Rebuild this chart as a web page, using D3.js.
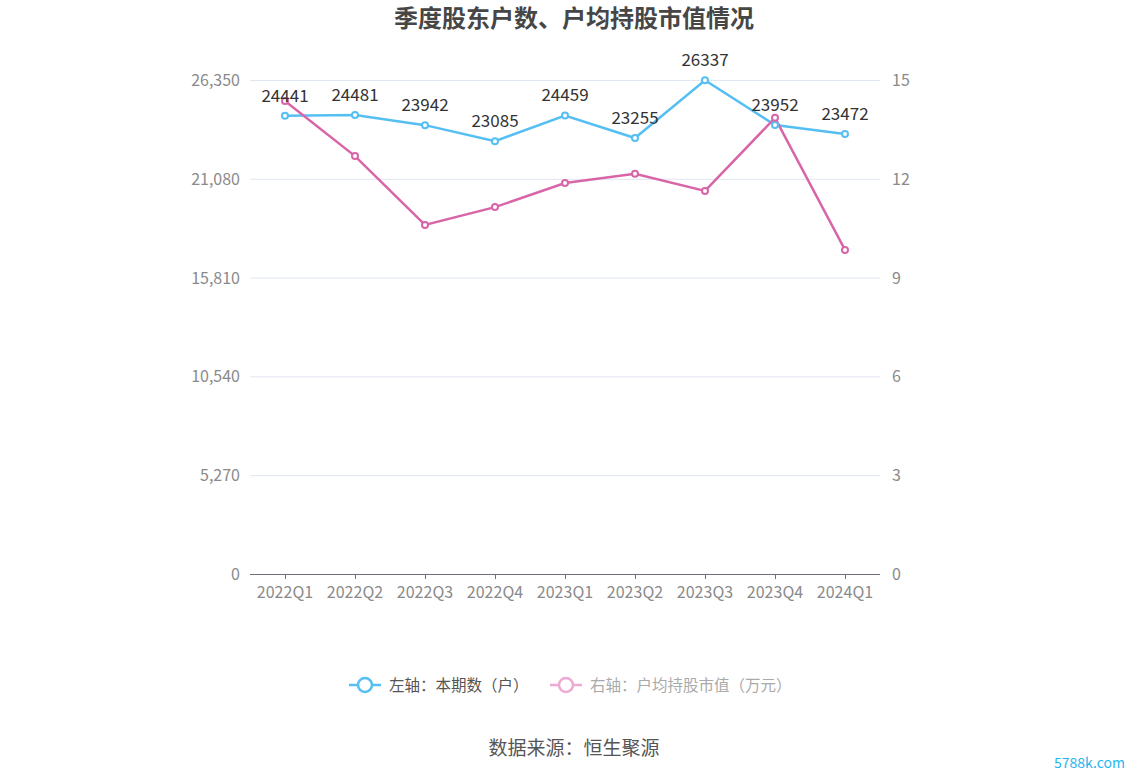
<!DOCTYPE html>
<html><head><meta charset="utf-8">
<script src="https://cdn.jsdelivr.net/npm/d3@7/dist/d3.min.js"></script>
<style>body{margin:0;background:#fff;}svg{display:block;font-family:"Microsoft YaHei","Noto Sans CJK SC",sans-serif;}</style>
</head><body><svg id="c" width="1148" height="776"></svg>
<script>
const categories=["2022Q1","2022Q2","2022Q3","2022Q4","2023Q1","2023Q2","2023Q3","2023Q4","2024Q1"];
const holders=[24441,24481,23942,23085,24459,23255,26337,23952,23472];
const avgValue=[14.36,12.69,10.60,11.14,11.87,12.15,11.63,13.85,9.84];
const leftTicks=[0,5270,10540,15810,21080,26350];
const rightTicks=[0,3,6,9,12,15];
const blue="#55bff3", pink="#d865a8";
const svg=d3.select("#c");
const L=250,R=880,T=80,B=574;
const x=d3.scaleBand().domain(categories).range([L,R]);
const yL=d3.scaleLinear().domain([0,26350]).range([B,T]);
const yR=d3.scaleLinear().domain([0,15]).range([B,T]);
const cx=d=>x(d)+x.bandwidth()/2;
svg.append("text").attr("x",574).attr("y",27).attr("text-anchor","middle").attr("font-size",24).attr("font-weight","bold").attr("fill","#464646").text("季度股东户数、户均持股市值情况");
svg.append("g").selectAll("line").data(leftTicks.slice(1)).join("line").attr("x1",L).attr("x2",R).attr("y1",d=>yL(d)+0.5).attr("y2",d=>yL(d)+0.5).attr("stroke","#e0e6f1");
svg.append("g").selectAll("text").data(leftTicks).join("text").attr("x",240).attr("y",d=>yL(d)+6).attr("text-anchor","end").attr("font-size",16).attr("fill","#8a8a8a").text(d=>d3.format(",")(d));
svg.append("g").selectAll("text").data(rightTicks).join("text").attr("x",892).attr("y",d=>yR(d)+6).attr("text-anchor","start").attr("font-size",16).attr("fill","#8a8a8a").text(d=>d);
svg.append("line").attr("x1",L).attr("x2",R).attr("y1",B+0.5).attr("y2",B+0.5).attr("stroke","#6e7079");
svg.append("g").selectAll("line").data(categories).join("line").attr("x1",d=>Math.round(cx(d))+0.5).attr("x2",d=>Math.round(cx(d))+0.5).attr("y1",B).attr("y2",B+5).attr("stroke","#6e7079");
svg.append("g").selectAll("text").data(categories).join("text").attr("x",d=>cx(d)).attr("y",B+24).attr("text-anchor","middle").attr("font-size",16).attr("fill","#8a8a8a").text(d=>d);
const lineL=d3.line().x((d,i)=>cx(categories[i])).y(d=>yL(d));
const lineR=d3.line().x((d,i)=>cx(categories[i])).y(d=>yR(d));
svg.append("path").attr("d",lineL(holders)).attr("fill","none").attr("stroke",blue).attr("stroke-width",2.5);
svg.append("path").attr("d",lineR(avgValue)).attr("fill","none").attr("stroke",pink).attr("stroke-width",2.5);
svg.append("g").selectAll("circle").data(holders).join("circle").attr("cx",(d,i)=>cx(categories[i])).attr("cy",d=>yL(d)).attr("r",3).attr("fill","#fff").attr("stroke",blue).attr("stroke-width",2);
svg.append("g").selectAll("circle").data(avgValue).join("circle").attr("cx",(d,i)=>cx(categories[i])).attr("cy",d=>yR(d)).attr("r",3).attr("fill","#fff").attr("stroke",pink).attr("stroke-width",2);
svg.append("g").selectAll("text").data(holders).join("text").attr("x",(d,i)=>cx(categories[i])).attr("y",d=>yL(d)-14).attr("text-anchor","middle").attr("font-size",17).attr("fill","#333").text(d=>d);
const lg=svg.append("g");
lg.append("line").attr("x1",349).attr("x2",381).attr("y1",685).attr("y2",685).attr("stroke",blue).attr("stroke-width",2.5);
lg.append("circle").attr("cx",365).attr("cy",685).attr("r",7).attr("fill","#fff").attr("stroke",blue).attr("stroke-width",2.5);
lg.append("text").attr("x",389).attr("y",691).attr("font-size",15.5).attr("fill","#555").text("左轴：本期数（户）");
lg.append("line").attr("x1",550).attr("x2",582).attr("y1",685).attr("y2",685).attr("stroke","#eeaad2").attr("stroke-width",2.5);
lg.append("circle").attr("cx",566).attr("cy",685).attr("r",7).attr("fill","#fff").attr("stroke","#eeaad2").attr("stroke-width",2.5);
lg.append("text").attr("x",590).attr("y",691).attr("font-size",15.5).attr("fill","#aaa").text("右轴：户均持股市值（万元）");
svg.append("text").attr("x",574).attr("y",755).attr("text-anchor","middle").attr("font-size",19).attr("fill","#555").text("数据来源：恒生聚源");
svg.append("text").attr("x",1125).attr("y",768).attr("text-anchor","end").attr("font-size",14).attr("fill","#1fb6ef").text("5788k.com");
</script></body></html>
